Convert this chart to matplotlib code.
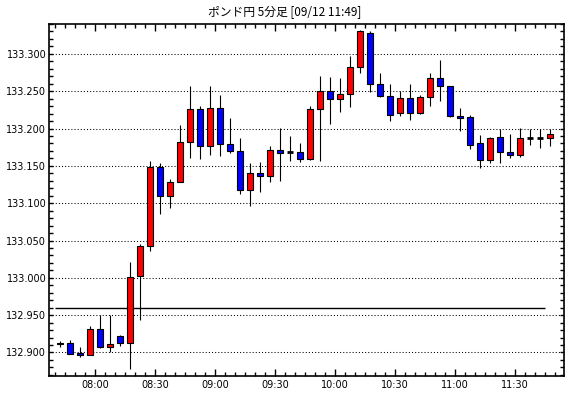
import matplotlib
matplotlib.use("Agg")
import matplotlib.pyplot as plt
import numpy as np
import pandas as pd
from matplotlib.ticker import MultipleLocator, FixedLocator

# 5-minute bars starting 07:40
start = "07:40"
n_bars = 50

opens = [132.911, 132.913, 132.899, 132.897, 132.932, 132.908, 132.922, 132.913, 133.002, 133.042,
         133.149, 133.109, 133.129, 133.182, 133.226, 133.177, 133.227, 133.179, 133.170, 133.117,
         133.141, 133.137, 133.171, 133.168, 133.169, 133.159, 133.226, 133.250, 133.240, 133.246,
         133.283, 133.328, 133.259, 133.244, 133.221, 133.241, 133.221, 133.242, 133.267, 133.257,
         133.217, 133.215, 133.180, 133.158, 133.188, 133.169, 133.164, 133.187, 133.187, 133.187]
highs = [132.916, 132.917, 132.908, 132.935, 132.950, 132.950, 132.924, 133.021, 133.045, 133.156,
         133.154, 133.133, 133.205, 133.257, 133.230, 133.257, 133.245, 133.214, 133.187, 133.154,
         133.155, 133.177, 133.201, 133.190, 133.180, 133.230, 133.271, 133.269, 133.267, 133.297,
         133.332, 133.330, 133.275, 133.259, 133.250, 133.259, 133.245, 133.274, 133.292, 133.257,
         133.228, 133.218, 133.191, 133.189, 133.200, 133.192, 133.201, 133.200, 133.200, 133.200]
lows = [132.907, 132.898, 132.894, 132.896, 132.906, 132.900, 132.909, 132.878, 132.944, 133.036,
        133.086, 133.093, 133.129, 133.160, 133.159, 133.165, 133.163, 133.167, 133.112, 133.096,
        133.115, 133.129, 133.130, 133.157, 133.155, 133.158, 133.157, 133.206, 133.222, 133.229,
        133.274, 133.249, 133.242, 133.210, 133.217, 133.211, 133.219, 133.230, 133.237, 133.216,
        133.197, 133.173, 133.147, 133.154, 133.154, 133.161, 133.162, 133.178, 133.174, 133.176]
closes = [132.913, 132.898, 132.897, 132.932, 132.908, 132.911, 132.913, 133.001, 133.042, 133.149,
          133.109, 133.129, 133.182, 133.226, 133.177, 133.227, 133.179, 133.170, 133.117, 133.141,
          133.137, 133.171, 133.167, 133.168, 133.159, 133.226, 133.250, 133.240, 133.246, 133.283,
          133.330, 133.259, 133.244, 133.218, 133.241, 133.221, 133.242, 133.267, 133.257, 133.217,
          133.214, 133.178, 133.158, 133.187, 133.168, 133.164, 133.187, 133.187, 133.187, 133.193]

ref_level = 132.960
tick_labels = ["08:00", "08:30", "09:00", "09:30", "10:00", "10:30", "11:00", "11:30"]
title = "ポンド円 5分足 [09/12 11:49]"

# x in minutes since midnight, candle drawn at middle of its 5 minute bar
times = pd.date_range("2000-01-01 " + start, periods=n_bars, freq="5min")
t0 = times.hour * 60 + times.minute
x = np.asarray(t0, dtype=float) + 2.5

o = np.array(opens); h = np.array(highs); l = np.array(lows); c = np.array(closes)

fig = plt.figure(figsize=(5.7, 3.98), dpi=100)
ax = fig.add_axes([49 / 570, 22 / 398, 515 / 570, 352 / 398])

ax.vlines(x, l, h, color="black", linewidth=0.8, zorder=2)
up = c > o
down = c < o
flat = c == o
w = 2.9
ax.bar(x[up], (c - o)[up], bottom=o[up], width=w, color="#ff0000",
       edgecolor="black", linewidth=0.8, zorder=3)
ax.bar(x[down], (o - c)[down], bottom=c[down], width=w, color="#0000ff",
       edgecolor="black", linewidth=0.8, zorder=3)
ax.hlines(o[flat], x[flat] - w / 2, x[flat] + w / 2, color="black", linewidth=2, zorder=3)

ax.hlines(ref_level, t0[0], t0[-1], color="black", linewidth=1, zorder=2)

ax.set_xlim(t0[0] - 3.15, t0[-1] + 2.5 + 6.87)
ax.set_ylim(132.8685, 133.340)

ax.yaxis.set_major_locator(MultipleLocator(0.05))
ax.yaxis.set_minor_locator(MultipleLocator(0.01))
ax.yaxis.set_major_formatter(matplotlib.ticker.FormatStrFormatter("%.3f"))
major_x = [int(s[:2]) * 60 + int(s[3:]) for s in tick_labels]
ax.xaxis.set_major_locator(FixedLocator(major_x))
ax.set_xticklabels(tick_labels)
ax.xaxis.set_minor_locator(MultipleLocator(5))

ax.grid(axis="y", which="major", color="black", linestyle=(0, (1, 2)), linewidth=0.75, zorder=1)
ax.set_axisbelow(True)

ax.tick_params(which="both", direction="in", top=True, right=True, labelsize=7, colors="black")
ax.tick_params(axis="x", which="major", length=5, width=1, pad=3)
ax.tick_params(axis="x", which="minor", length=3, width=1)
ax.tick_params(axis="y", which="major", length=3, width=1, pad=2)
ax.tick_params(axis="y", which="minor", length=3, width=1)
for sp in ax.spines.values():
    sp.set_linewidth(1.2)

fig.text(0.5, 1 - 12 / 398, title, ha="center", va="center", fontsize=8.5,
         family=["Noto Sans CJK JP", "DejaVu Sans"])

fig.savefig("out.png", dpi=100, facecolor="white")
